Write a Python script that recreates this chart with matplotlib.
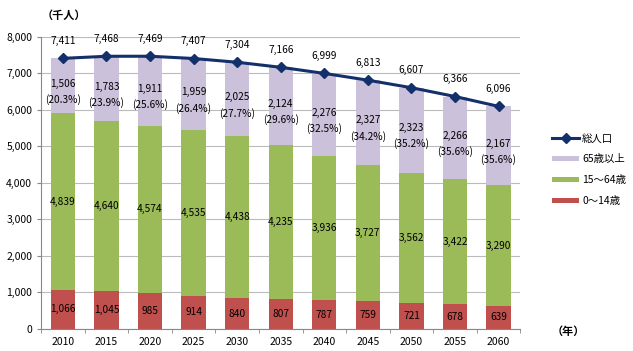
import numpy as np
import matplotlib.pyplot as plt

plt.rcParams['font.family'] = ['Noto Sans CJK JP', 'DejaVu Sans']

years = [2010, 2015, 2020, 2025, 2030, 2035, 2040, 2045, 2050, 2055, 2060]
age_0_14 = [1066, 1045, 985, 914, 840, 807, 787, 759, 721, 678, 639]
age_15_64 = [4839, 4640, 4574, 4535, 4438, 4235, 3936, 3727, 3562, 3422, 3290]
age_65 = [1506, 1783, 1911, 1959, 2025, 2124, 2276, 2327, 2323, 2266, 2167]
pct_65 = [20.3, 23.9, 25.6, 26.4, 27.7, 29.6, 32.5, 34.2, 35.2, 35.6, 35.6]
total = [7411, 7468, 7469, 7407, 7304, 7166, 6999, 6813, 6607, 6366, 6096]

c_red = '#C0504D'
c_green = '#9BBB59'
c_purple = '#CCC1DA'
c_line = '#13306B'

fig = plt.figure(figsize=(6.33, 3.51), dpi=100)
ax = fig.add_axes([0.065, 0.063, 0.757, 0.832])

x = np.arange(len(years))
w = 0.56
a = np.array(age_0_14)
b = np.array(age_15_64)
c = np.array(age_65)

ax.bar(x, a, w, color=c_red, label='0～14歳', zorder=2)
ax.bar(x, b, w, bottom=a, color=c_green, label='15～64歳', zorder=2)
ax.bar(x, c, w, bottom=a + b, color=c_purple, label='65歳以上', zorder=2)
ax.plot(x, total, color=c_line, lw=2.2, marker='D', ms=5, label='総人口', zorder=3)

fs = 7.3
for i in x:
    ax.text(i, a[i] / 2, f'{a[i]:,}', ha='center', va='center', fontsize=fs)
    ax.text(i, a[i] + b[i] / 2, f'{b[i]:,}', ha='center', va='center', fontsize=fs)
    mid = a[i] + b[i] + c[i] / 2
    ax.text(i, mid + 60, f'{c[i]:,}', ha='center', va='center', fontsize=fs)
    ax.text(i, mid - 380, f'({pct_65[i]:.1f}%)', ha='center', va='center', fontsize=fs)
    ax.text(i, total[i] + 480, f'{total[i]:,}', ha='center', va='center', fontsize=fs)

ax.set_ylim(0, 8000)
ax.set_xlim(-0.48, 10.35)
ax.set_yticks(range(0, 8001, 1000))
ax.set_yticklabels([f'{v:,}' for v in range(0, 8001, 1000)], fontsize=7.5)
ax.set_xticks(x)
ax.set_xticklabels(years, fontsize=7.5)
ax.set_xticks(np.arange(-0.5, 10.6, 1), minor=True)
ax.tick_params(axis='x', which='major', length=0, pad=6)
ax.tick_params(axis='x', which='minor', length=3, color='#888888')
ax.tick_params(axis='y', length=3, color='#888888')
ax.grid(axis='y', color='#BBBBBB', lw=0.8, zorder=0)
for s in ['top', 'right']:
    ax.spines[s].set_visible(False)
for s in ['left', 'bottom']:
    ax.spines[s].set_color('#888888')

h, l = ax.get_legend_handles_labels()
order = [l.index(k) for k in ['総人口', '65歳以上', '15～64歳', '0～14歳']]
ax.legend([h[k] for k in order], [l[k] for k in order], loc='upper left',
          bbox_to_anchor=(0.872, 0.62), bbox_transform=fig.transFigure,
          frameon=False, fontsize=7.5, borderaxespad=0, borderpad=0,
          handlelength=2.6, handleheight=0.45, handletextpad=0.3,
          labelspacing=1.05)

fig.text(0.065, 0.955, '（千人）', fontsize=8, fontweight='bold', va='center', ha='left')
fig.text(0.872, 0.057, '（年）', fontsize=8, fontweight='bold', va='center', ha='left')

fig.savefig('out.png', dpi=100)
